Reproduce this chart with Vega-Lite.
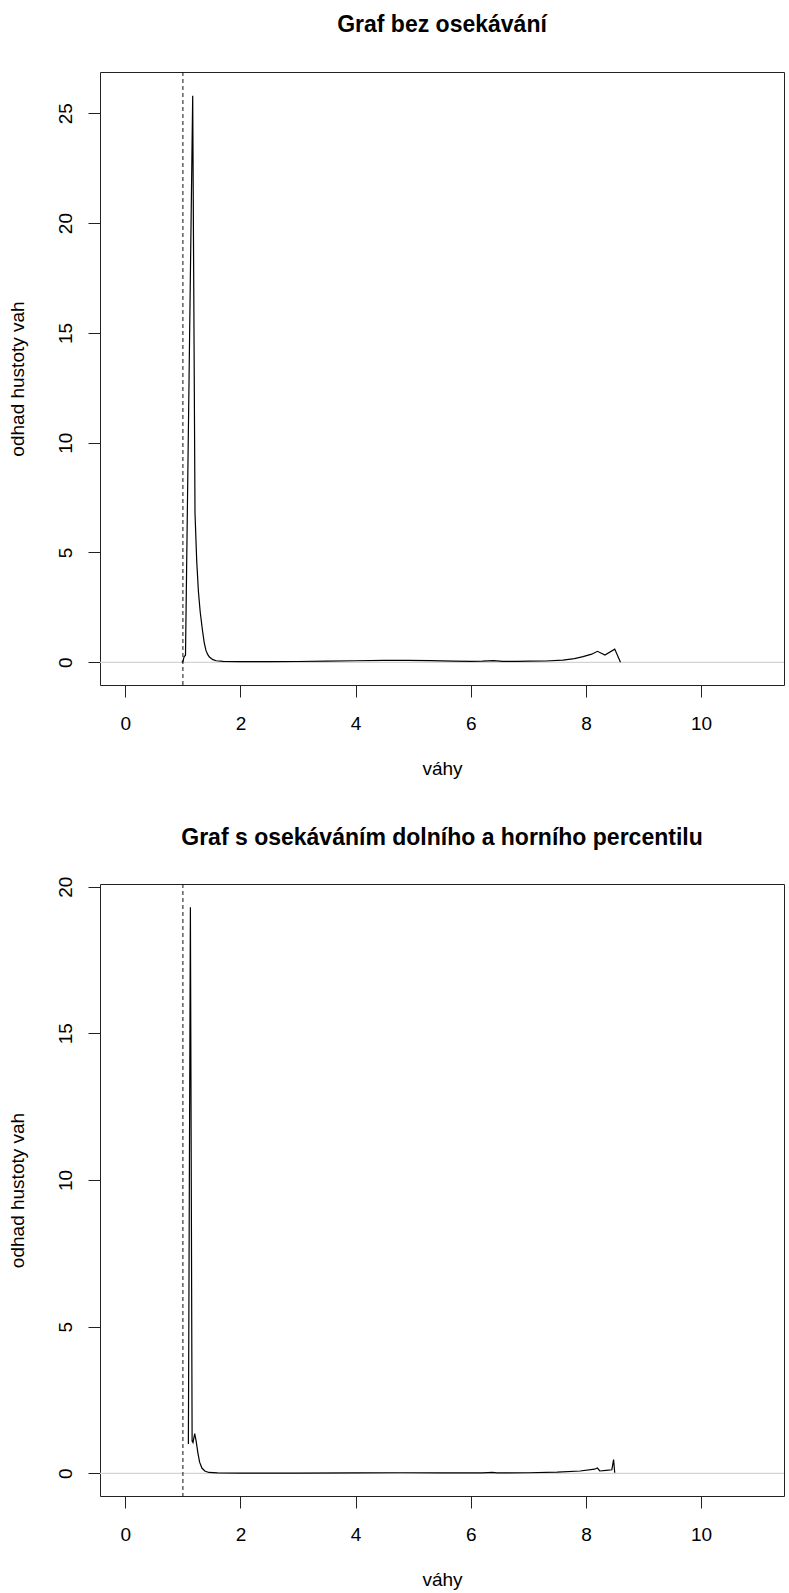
{
  "$schema": "https://vega.github.io/schema/vega-lite/v6.json",
  "autosize": {"type": "pad"},
  "padding": {"left": 7, "top": 13, "right": 0, "bottom": 0},
  "background": "white",
  "spacing": 199,
  "bounds": "flush",
  "config": {
    "font": "Liberation Sans",
    "view": {"stroke": "#222", "strokeWidth": 1},
    "axis": {
      "grid": false,
      "domain": false,
      "tickColor": "#222",
      "tickSize": 12,
      "tickWidth": 1,
      "labelFont": "Liberation Sans",
      "labelFontSize": 19,
      "labelColor": "#000",
      "labelOverlap": false,
      "labelFlush": false,
      "format": "d",
      "titleFont": "Liberation Sans",
      "titleFontSize": 19,
      "titleFontWeight": "normal",
      "titleColor": "#000"
    },
    "title": {
      "font": "Liberation Sans",
      "fontSize": 23,
      "fontWeight": "bold",
      "color": "#000",
      "baseline": "alphabetic",
      "anchor": "middle"
    }
  },
  "datasets": {
    "bez": [
      {"vaha": 0.98, "hustota": 0.0},
      {"vaha": 1.0, "hustota": 0.03},
      {"vaha": 1.02, "hustota": 0.25},
      {"vaha": 1.045, "hustota": 0.32},
      {"vaha": 1.17, "hustota": 25.8},
      {"vaha": 1.21, "hustota": 6.8},
      {"vaha": 1.24, "hustota": 4.6},
      {"vaha": 1.27, "hustota": 3.2},
      {"vaha": 1.3, "hustota": 2.3},
      {"vaha": 1.34, "hustota": 1.45},
      {"vaha": 1.37, "hustota": 0.9},
      {"vaha": 1.4, "hustota": 0.54},
      {"vaha": 1.43, "hustota": 0.36},
      {"vaha": 1.46, "hustota": 0.24},
      {"vaha": 1.52, "hustota": 0.12},
      {"vaha": 1.58, "hustota": 0.07},
      {"vaha": 1.7, "hustota": 0.04},
      {"vaha": 2.0, "hustota": 0.03},
      {"vaha": 2.5, "hustota": 0.03},
      {"vaha": 3.0, "hustota": 0.035},
      {"vaha": 3.5, "hustota": 0.05},
      {"vaha": 4.0, "hustota": 0.07},
      {"vaha": 4.5, "hustota": 0.085},
      {"vaha": 4.9, "hustota": 0.09},
      {"vaha": 5.3, "hustota": 0.08},
      {"vaha": 5.7, "hustota": 0.05},
      {"vaha": 6.0, "hustota": 0.04},
      {"vaha": 6.2, "hustota": 0.05},
      {"vaha": 6.4, "hustota": 0.08},
      {"vaha": 6.55, "hustota": 0.04},
      {"vaha": 6.8, "hustota": 0.04},
      {"vaha": 7.0, "hustota": 0.05},
      {"vaha": 7.3, "hustota": 0.06},
      {"vaha": 7.6, "hustota": 0.1},
      {"vaha": 7.8, "hustota": 0.17},
      {"vaha": 7.95, "hustota": 0.26},
      {"vaha": 8.1, "hustota": 0.37},
      {"vaha": 8.2, "hustota": 0.5},
      {"vaha": 8.33, "hustota": 0.33},
      {"vaha": 8.5, "hustota": 0.6},
      {"vaha": 8.6, "hustota": 0.0}
    ],
    "osekane": [
      {"vaha": 1.095, "hustota": 1.0},
      {"vaha": 1.13, "hustota": 19.3},
      {"vaha": 1.16, "hustota": 1.1},
      {"vaha": 1.175, "hustota": 1.05},
      {"vaha": 1.205, "hustota": 1.35},
      {"vaha": 1.23, "hustota": 1.1},
      {"vaha": 1.26, "hustota": 0.7},
      {"vaha": 1.29, "hustota": 0.38},
      {"vaha": 1.33, "hustota": 0.18},
      {"vaha": 1.38, "hustota": 0.08},
      {"vaha": 1.45, "hustota": 0.03},
      {"vaha": 1.6, "hustota": 0.015},
      {"vaha": 2.0, "hustota": 0.01},
      {"vaha": 3.0, "hustota": 0.01},
      {"vaha": 4.0, "hustota": 0.015},
      {"vaha": 4.8, "hustota": 0.02},
      {"vaha": 5.5, "hustota": 0.015},
      {"vaha": 6.2, "hustota": 0.015},
      {"vaha": 6.38, "hustota": 0.03},
      {"vaha": 6.45, "hustota": 0.015},
      {"vaha": 7.0, "hustota": 0.02},
      {"vaha": 7.5, "hustota": 0.04},
      {"vaha": 7.9, "hustota": 0.08},
      {"vaha": 8.15, "hustota": 0.14},
      {"vaha": 8.2, "hustota": 0.18},
      {"vaha": 8.24, "hustota": 0.08},
      {"vaha": 8.35, "hustota": 0.1},
      {"vaha": 8.45, "hustota": 0.12},
      {"vaha": 8.48, "hustota": 0.47},
      {"vaha": 8.5, "hustota": 0.02}
    ],
    "reference": [{"nula": 0, "mez": 1}]
  },
  "vconcat": [
    {
      "title": {"text": "Graf bez osekávání", "offset": 34.5},
      "width": 684,
      "height": 613,
      "layer": [
        {
          "data": {"name": "reference"},
          "mark": {"type": "rule", "color": "#d3d3d3", "strokeWidth": 1.2},
          "encoding": {"y": {"field": "nula", "type": "quantitative"}}
        },
        {
          "data": {"name": "reference"},
          "mark": {"type": "rule", "color": "#111", "strokeWidth": 1, "strokeDash": [4, 3]},
          "encoding": {"x": {"field": "mez", "type": "quantitative"}}
        },
        {
          "data": {"name": "bez"},
          "mark": {"type": "line", "color": "#000", "strokeWidth": 1.2, "clip": true},
          "encoding": {
            "x": {
              "field": "vaha", "type": "quantitative",
              "scale": {"domain": [-0.44, 11.44], "nice": false, "zero": false},
              "axis": {
                "title": "váhy",
                "values": [0, 2, 4, 6, 8, 10],
                "labelBaseline": "alphabetic",
                "labelPadding": 32,
                "titleBaseline": "alphabetic",
                "titleY": 89.5
              }
            },
            "y": {
              "field": "hustota", "type": "quantitative",
              "scale": {"domain": [-1.034, 26.88], "nice": false, "zero": false},
              "axis": {
                "title": "odhad hustoty vah",
                "values": [0, 5, 10, 15, 20, 25],
                "labelAngle": 270,
                "labelAlign": "center",
                "labelBaseline": "alphabetic",
                "labelPadding": 16.5,
                "titleAngle": 270,
                "titleAlign": "center",
                "titleBaseline": "alphabetic",
                "titleX": -77,
                "titleY": 306.5
              }
            }
          }
        }
      ]
    },
    {
      "title": {"text": "Graf s osekáváním dolního a horního percentilu", "offset": 26},
      "width": 684,
      "height": 612,
      "layer": [
        {
          "data": {"name": "reference"},
          "mark": {"type": "rule", "color": "#d3d3d3", "strokeWidth": 1.2},
          "encoding": {"y": {"field": "nula", "type": "quantitative"}}
        },
        {
          "data": {"name": "reference"},
          "mark": {"type": "rule", "color": "#111", "strokeWidth": 1, "strokeDash": [4, 3]},
          "encoding": {"x": {"field": "mez", "type": "quantitative"}}
        },
        {
          "data": {"name": "osekane"},
          "mark": {"type": "line", "color": "#000", "strokeWidth": 1.2, "clip": true},
          "encoding": {
            "x": {
              "field": "vaha", "type": "quantitative",
              "scale": {"domain": [-0.44, 11.44], "nice": false, "zero": false},
              "axis": {
                "title": "váhy",
                "values": [0, 2, 4, 6, 8, 10],
                "labelBaseline": "alphabetic",
                "labelPadding": 32,
                "titleBaseline": "alphabetic",
                "titleY": 89.5
              }
            },
            "y": {
              "field": "hustota", "type": "quantitative",
              "scale": {"domain": [-0.773, 20.09], "nice": false, "zero": false},
              "axis": {
                "title": "odhad hustoty vah",
                "values": [0, 5, 10, 15, 20],
                "labelAngle": 270,
                "labelAlign": "center",
                "labelBaseline": "alphabetic",
                "labelPadding": 16.5,
                "titleAngle": 270,
                "titleAlign": "center",
                "titleBaseline": "alphabetic",
                "titleX": -77,
                "titleY": 306
              }
            }
          }
        }
      ]
    }
  ]
}
